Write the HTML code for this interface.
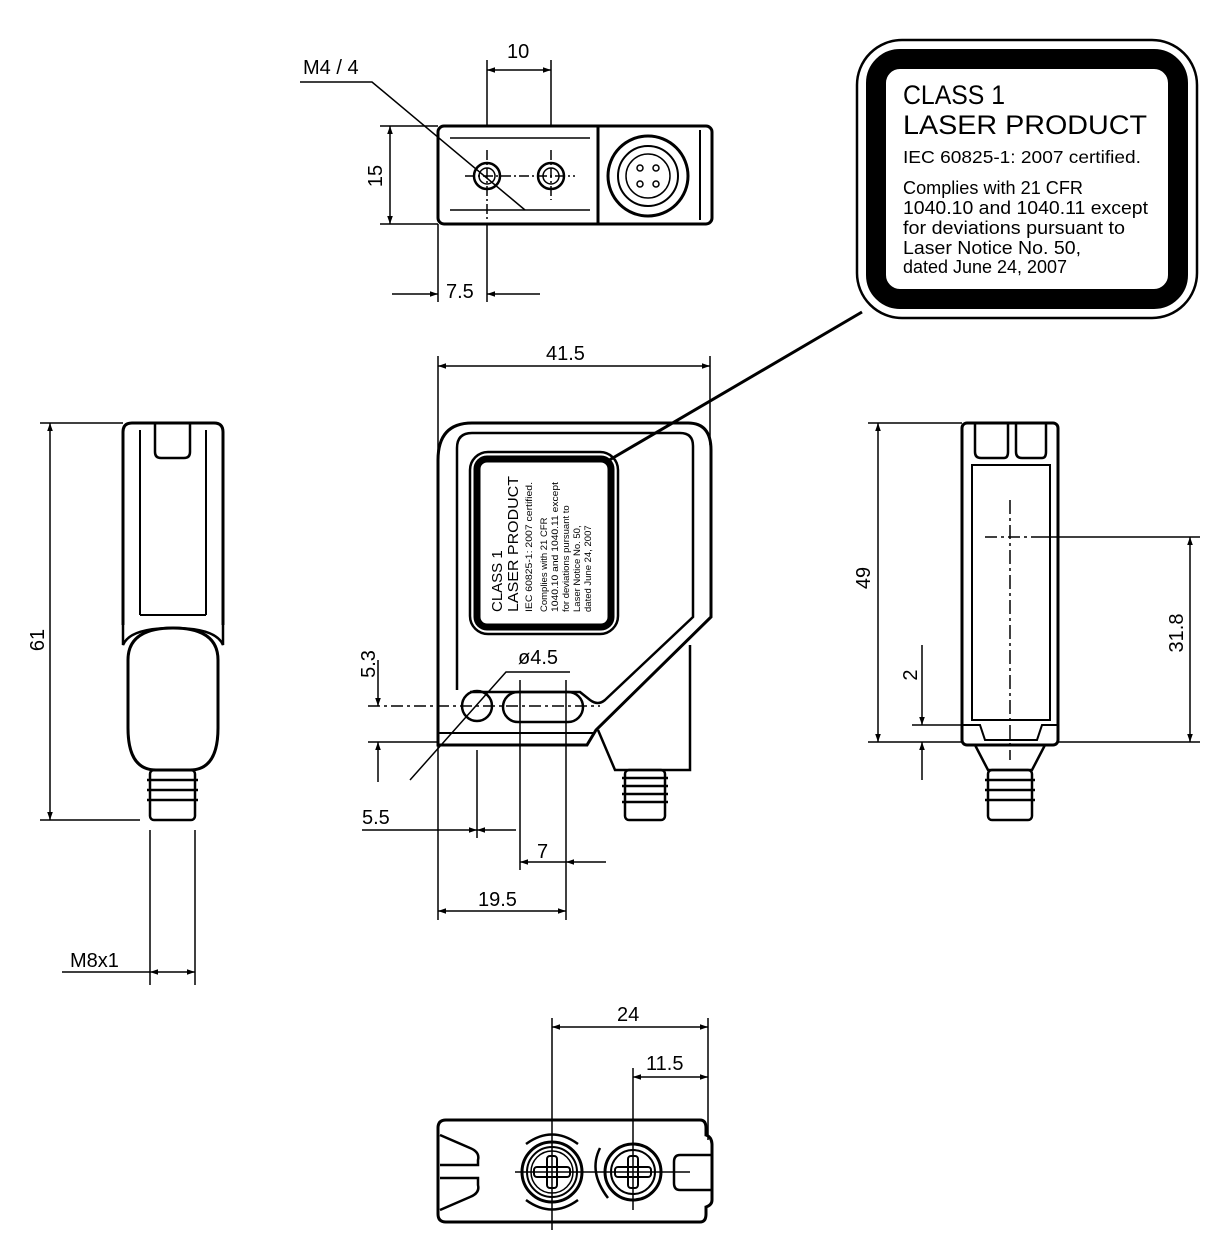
<!DOCTYPE html>
<html><head><meta charset="utf-8"><style>
html,body{margin:0;padding:0;background:#fff;width:1228px;height:1252px;overflow:hidden}
svg{display:block}
text{font-family:"Liberation Sans",Arial,sans-serif;fill:#000}
</style></head><body>
<svg width="1228" height="1252" viewBox="0 0 1228 1252" xmlns="http://www.w3.org/2000/svg">
<defs>
<marker id="a" viewBox="0 0 10 10" refX="10" refY="5" markerWidth="16" markerHeight="8" markerUnits="userSpaceOnUse" orient="auto-start-reverse"><path d="M0,1.5 L10,5 L0,8.5 z" fill="#000"/></marker>
</defs>
<g fill="none" stroke="#000" stroke-width="1.5">
<!-- TOP VIEW -->
<rect x="438" y="126" width="274" height="98" rx="6" stroke-width="3"/>
<line x1="598" y1="126" x2="598" y2="224" stroke-width="3"/>
<line x1="450" y1="138" x2="590" y2="138"/>
<line x1="450" y1="210" x2="590" y2="210"/>
<line x1="700" y1="130" x2="700" y2="220" stroke-width="2"/>
<circle cx="487" cy="176" r="13" stroke-width="2.5"/><circle cx="487" cy="176" r="8"/>
<circle cx="551" cy="176" r="13" stroke-width="2.5"/><circle cx="551" cy="176" r="8"/>
<circle cx="648" cy="176" r="40" stroke-width="3"/><circle cx="648" cy="176" r="30" stroke-width="2"/><circle cx="648" cy="176" r="22"/>
<circle cx="640" cy="168" r="3"/><circle cx="656" cy="168" r="3"/><circle cx="640" cy="184" r="3"/><circle cx="656" cy="184" r="3"/>
<line x1="465" y1="176" x2="575" y2="176" stroke-dasharray="10,3,2,3"/>
<line x1="487" y1="150" x2="487" y2="220" stroke-dasharray="10,3,2,3"/>
<line x1="551" y1="150" x2="551" y2="200" stroke-dasharray="10,3,2,3"/>
<line x1="487" y1="60" x2="487" y2="126"/><line x1="551" y1="60" x2="551" y2="126"/>
<line x1="487" y1="70" x2="551" y2="70" marker-start="url(#a)" marker-end="url(#a)"/>
<line x1="380" y1="126" x2="438" y2="126"/><line x1="380" y1="224" x2="438" y2="224"/>
<line x1="390" y1="126" x2="390" y2="224" marker-start="url(#a)" marker-end="url(#a)"/>
<line x1="438" y1="224" x2="438" y2="302"/><line x1="487" y1="224" x2="487" y2="302"/>
<line x1="392" y1="294" x2="438" y2="294" marker-end="url(#a)"/><line x1="540" y1="294" x2="487" y2="294" marker-end="url(#a)"/>
<polyline points="300,82 372,82 525,210"/>
<!-- LABEL CALLOUT -->
<rect x="857" y="40" width="340" height="278" rx="45" stroke-width="2.5"/>
<rect x="876" y="59" width="302" height="240" rx="24" stroke-width="20"/>
<line x1="862" y1="312" x2="606" y2="462" stroke-width="3"/>
<!-- FRONT VIEW -->
<line x1="438" y1="356" x2="438" y2="460"/><line x1="710" y1="356" x2="710" y2="445"/>
<line x1="438" y1="366" x2="710" y2="366" marker-start="url(#a)" marker-end="url(#a)"/>
<path d="M438,745 L438,460 Q438,423 472,423 L688,423 Q711,423 711,450 L711,617 L596,730 L587,745 Z" stroke-width="3"/>
<path d="M457,690 L457,448 Q457,433 472,433 L680,433 Q693,433 693,446 L693,617 L605,700 Q598,706 590,700 L580,692 L470,692" stroke-width="2.5"/>
<path d="M438,733 L593,733" stroke-width="2"/>
<path d="M598,730 L615,770 L690,770 L690,645" stroke-width="2.5"/>
<rect x="470" y="452" width="148" height="182" rx="18" stroke-width="2.5"/>
<rect x="477" y="459" width="134" height="168" rx="10" stroke-width="7"/>
<circle cx="477" cy="706" r="15" stroke-width="2.5"/>
<rect x="503" y="692" width="80" height="30" rx="15" stroke-width="2.5"/>
<line x1="368" y1="706" x2="600" y2="706" stroke-dasharray="12,4,3,4"/>
<line x1="368" y1="742" x2="438" y2="742"/>
<line x1="378" y1="660" x2="378" y2="706" marker-end="url(#a)"/><line x1="378" y1="782" x2="378" y2="742" marker-end="url(#a)"/>
<polyline points="570,672 506,672 410,780"/>
<line x1="477" y1="750" x2="477" y2="838"/>
<line x1="520" y1="680" x2="520" y2="870"/><line x1="566" y1="680" x2="566" y2="920"/>
<line x1="438" y1="745" x2="438" y2="920"/>
<line x1="362" y1="830" x2="477" y2="830" marker-end="url(#a)"/><line x1="516" y1="830" x2="477" y2="830" marker-end="url(#a)"/>
<line x1="520" y1="862" x2="566" y2="862" marker-start="url(#a)"/><line x1="606" y1="862" x2="566" y2="862" marker-end="url(#a)"/>
<line x1="438" y1="911" x2="566" y2="911" marker-start="url(#a)" marker-end="url(#a)"/>
<g stroke-width="2.5"><rect x="625" y="770" width="40" height="50" rx="4"/>
<line x1="622" y1="778" x2="668" y2="778"/><line x1="622" y1="786" x2="668" y2="786"/><line x1="622" y1="794" x2="668" y2="794"/><line x1="622" y1="802" x2="668" y2="802"/></g>
<!-- LEFT VIEW -->
<path d="M123,625 L123,432 Q123,423 132,423 L214,423 Q223,423 223,432 L223,625" stroke-width="3"/>
<path d="M155,423 L155,452 Q155,458 161,458 L184,458 Q190,458 190,452 L190,423" stroke-width="2.5"/>
<line x1="140" y1="430" x2="140" y2="615" stroke-width="2"/><line x1="206" y1="430" x2="206" y2="615" stroke-width="2"/>
<line x1="140" y1="615" x2="206" y2="615" stroke-width="2"/>
<path d="M123,625 L123,645 Q130,628 173,628 Q216,628 223,645 L223,625" stroke-width="2.5"/>
<path d="M128,660 Q128,628 173,628 Q218,628 218,660 L218,728 Q218,770 190,770 L156,770 Q128,770 128,728 Z" stroke-width="3"/>
<g stroke-width="2.5"><rect x="150" y="770" width="45" height="50" rx="4"/>
<line x1="147" y1="780" x2="198" y2="780"/><line x1="147" y1="790" x2="198" y2="790"/><line x1="147" y1="800" x2="198" y2="800"/></g>
<line x1="40" y1="423" x2="123" y2="423"/><line x1="40" y1="820" x2="140" y2="820"/>
<line x1="50" y1="423" x2="50" y2="820" marker-start="url(#a)" marker-end="url(#a)"/>
<line x1="150" y1="830" x2="150" y2="985"/><line x1="195" y1="830" x2="195" y2="985"/>
<line x1="62" y1="972" x2="150" y2="972"/>
<line x1="150" y1="972" x2="195" y2="972" marker-start="url(#a)" marker-end="url(#a)"/>
<!-- RIGHT VIEW -->
<rect x="962" y="423" width="96" height="322" rx="5" stroke-width="3"/>
<rect x="972" y="465" width="78" height="255" stroke-width="2"/>
<path d="M975,423 L975,452 Q975,458 981,458 L1004,458 Q1008,458 1008,452 L1008,423" stroke-width="2.5"/>
<path d="M1016,423 L1016,452 Q1016,458 1022,458 L1042,458 Q1046,458 1046,452 L1046,423" stroke-width="2.5"/>
<path d="M962,725 L980,725 L985,740 L1037,740 L1042,725 L1058,725" stroke-width="2"/>
<path d="M975,745 L988,770 L1032,770 L1045,745" stroke-width="2.5"/>
<line x1="1010" y1="500" x2="1010" y2="760" stroke-dasharray="14,4,3,4"/>
<line x1="985" y1="537" x2="1040" y2="537" stroke-dasharray="12,4,3,4"/>
<g stroke-width="2.5"><rect x="988" y="770" width="44" height="50" rx="4"/>
<line x1="985" y1="780" x2="1035" y2="780"/><line x1="985" y1="790" x2="1035" y2="790"/><line x1="985" y1="800" x2="1035" y2="800"/></g>
<line x1="868" y1="423" x2="962" y2="423"/><line x1="868" y1="742" x2="962" y2="742"/>
<line x1="878" y1="423" x2="878" y2="742" marker-start="url(#a)" marker-end="url(#a)"/>
<line x1="1040" y1="537" x2="1200" y2="537"/><line x1="1058" y1="742" x2="1200" y2="742"/>
<line x1="1190" y1="537" x2="1190" y2="742" marker-start="url(#a)" marker-end="url(#a)"/>
<line x1="912" y1="725" x2="962" y2="725"/>
<line x1="922" y1="645" x2="922" y2="725" marker-end="url(#a)"/><line x1="922" y1="780" x2="922" y2="742" marker-end="url(#a)"/>
<!-- BOTTOM VIEW -->
<path d="M446,1120 L700,1120 Q706,1120 706,1128 L706,1135 Q712,1137 712,1145 L712,1200 Q712,1205 706,1207 L706,1214 Q706,1222 700,1222 L446,1222 Q438,1222 438,1214 L438,1128 Q438,1120 446,1120 Z" stroke-width="3"/>
<path d="M440,1135 L470,1148 Q480,1152 478,1160 L478,1165 L440,1165" stroke-width="2.5"/>
<path d="M440,1210 L470,1197 Q480,1193 478,1185 L478,1178 L440,1178" stroke-width="2.5"/>
<path d="M712,1155 L680,1155 Q674,1155 674,1162 L674,1183 Q674,1190 680,1190 L712,1190" stroke-width="2.5"/>
<circle cx="552" cy="1172" r="30" stroke-width="3"/><circle cx="552" cy="1172" r="25" stroke-width="2"/><circle cx="552" cy="1172" r="21"/>
<circle cx="633" cy="1172" r="28" stroke-width="3"/><circle cx="633" cy="1172" r="22" stroke-width="2"/>
<path d="M526,1144 Q552,1125 578,1144" stroke-width="2.5"/><path d="M526,1200 Q552,1219 578,1200" stroke-width="2.5"/>
<path d="M600,1148 Q588,1172 608,1198" stroke-width="2.5"/>
<rect x="534" y="1167" width="36" height="10" rx="3" stroke-width="2"/><rect x="547" y="1156" width="10" height="32" rx="3" stroke-width="2"/>
<rect x="615" y="1167" width="36" height="10" rx="3" stroke-width="2"/><rect x="628" y="1156" width="10" height="32" rx="3" stroke-width="2"/>
<line x1="515" y1="1172" x2="690" y2="1172"/>
<line x1="552" y1="1018" x2="552" y2="1230"/><line x1="633" y1="1068" x2="633" y2="1210"/>
<line x1="708" y1="1018" x2="708" y2="1140"/>
<line x1="552" y1="1027" x2="708" y2="1027" marker-start="url(#a)" marker-end="url(#a)"/>
<line x1="633" y1="1077" x2="708" y2="1077" marker-start="url(#a)" marker-end="url(#a)"/>
</g>
<!-- TEXT -->
<g font-size="20">
<text x="303" y="74">M4 / 4</text>
<text x="507" y="58">10</text>
<text x="382" y="176" transform="rotate(-90 382 176)" text-anchor="middle">15</text>
<text x="446" y="298">7.5</text>
<text x="546" y="360">41.5</text>
<text x="518" y="664">ø4.5</text>
<text x="375" y="664" transform="rotate(-90 375 664)" text-anchor="middle">5.3</text>
<text x="362" y="824">5.5</text>
<text x="537" y="858">7</text>
<text x="478" y="906">19.5</text>
<text x="44" y="640" transform="rotate(-90 44 640)" text-anchor="middle">61</text>
<text x="70" y="967">M8x1</text>
<text x="870" y="578" transform="rotate(-90 870 578)" text-anchor="middle">49</text>
<text x="1183" y="633" transform="rotate(-90 1183 633)" text-anchor="middle">31.8</text>
<text x="917" y="675" transform="rotate(-90 917 675)" text-anchor="middle">2</text>
<text x="617" y="1021">24</text>
<text x="646" y="1070">11.5</text>
</g>
<g>
<text x="903" y="104" font-size="27" textLength="102" lengthAdjust="spacingAndGlyphs">CLASS 1</text>
<text x="903" y="134" font-size="27" textLength="244" lengthAdjust="spacingAndGlyphs">LASER PRODUCT</text>
<text x="903" y="163" font-size="17.5" textLength="238" lengthAdjust="spacingAndGlyphs">IEC 60825-1: 2007 certified.</text>
<text x="903" y="194" font-size="18" textLength="180" lengthAdjust="spacingAndGlyphs">Complies with 21 CFR</text>
<text x="903" y="214" font-size="18" textLength="245" lengthAdjust="spacingAndGlyphs">1040.10 and 1040.11 except</text>
<text x="903" y="234" font-size="18" textLength="222" lengthAdjust="spacingAndGlyphs">for deviations pursuant to</text>
<text x="903" y="254" font-size="18" textLength="178" lengthAdjust="spacingAndGlyphs">Laser Notice No. 50,</text>
<text x="903" y="273" font-size="18" textLength="164" lengthAdjust="spacingAndGlyphs">dated June 24, 2007</text>
</g>
<g transform="translate(502,612) rotate(-90)">
<text x="0" y="0" font-size="15">CLASS 1</text>
<text x="0" y="16" font-size="15" textLength="136" lengthAdjust="spacingAndGlyphs">LASER PRODUCT</text>
<text x="0" y="30" font-size="9.5" textLength="130" lengthAdjust="spacingAndGlyphs">IEC 60825-1: 2007 certified.</text>
<text x="0" y="45" font-size="9.5">Complies with 21 CFR</text>
<text x="0" y="56" font-size="9.5" textLength="130" lengthAdjust="spacingAndGlyphs">1040.10 and 1040.11 except</text>
<text x="0" y="67" font-size="9.5">for deviations pursuant to</text>
<text x="0" y="78" font-size="9.5">Laser Notice No. 50,</text>
<text x="0" y="89" font-size="9.5">dated June 24, 2007</text>
</g>
</svg>
</body></html>
